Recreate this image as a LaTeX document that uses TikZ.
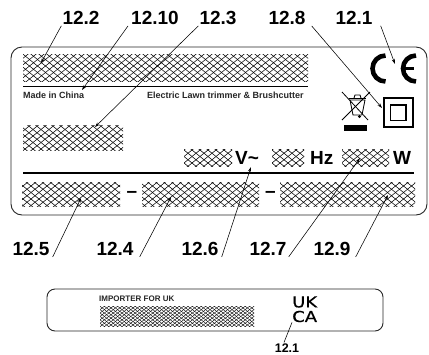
\documentclass[tikz,border=0pt]{standalone}
\usepackage{fontspec}
\setmainfont{Liberation Sans}
\newfontfamily\ukcafont[FakeStretch=1.2,FakeBold=.6]{DejaVu Sans}
\usetikzlibrary{arrows.meta}

\newcommand{\hatchlines}[3]{%
  \begin{scope}[shift={(path picture bounding box.center)}]
    \foreach \i in {-40,...,40} {
      \draw[line width=#3] ({\i*#1-120},-60) -- ++({120*2},{120*2*#2/#1});
      \draw[line width=#3] ({\i*#1+120},-60) -- ++({-120*2},{120*2*#2/#1});
    }
  \end{scope}}

\tikzset{
  hatchbox/.style={inner sep=0pt, outer sep=0pt, path picture={\hatchlines{8}{6.5}{.55pt}}},
  finebox/.style={inner sep=0pt, outer sep=0pt, path picture={\hatchlines{4.4}{3.4}{.4pt}}},
  bigtext/.style={inner sep=1pt, font=\fontsize{19}{19}\selectfont\bfseries},
  smalltext/.style={inner sep=0pt, font=\fontsize{9}{10}\selectfont\bfseries, text=black!85},
  callout/.style={-{Stealth[length=5pt,width=3.2pt]}, line width=.55pt},
  frame/.style={line width=.9pt, black!85}
}

\begin{document}
\begin{tikzpicture}[x=1pt, y=-1pt, line cap=butt, line join=miter]
\useasboundingbox (0,0) rectangle (429,354);

% Targhetta
\draw[frame, rounded corners=11pt] (11,47) rectangle (427,215);
\draw[line width=.7pt] (23,86) -- (308,86);
\draw[line width=2pt] (23,173) -- (414,173);

% Zone tratteggiate
\node[hatchbox, minimum width=285pt, minimum height=27pt] (hname) at (165.5,67.5) {};
\node[hatchbox, minimum width=100pt, minimum height=25pt] (hmodel) at (73,137.5) {};
\node[hatchbox, minimum width=48pt, minimum height=17pt] (hvolt) at (208,158) {};
\node[hatchbox, minimum width=32pt, minimum height=17pt] (hfreq) at (288,158) {};
\node[hatchbox, minimum width=47pt, minimum height=17pt] (hpower) at (365.5,158) {};
\node[hatchbox, minimum width=98pt, minimum height=24pt] (hleft) at (71,194) {};
\node[hatchbox, minimum width=117pt, minimum height=24pt] (hmid) at (200.5,194) {};
\node[hatchbox, minimum width=135pt, minimum height=24pt] (hright) at (347.5,194) {};

% Testi
\node[smalltext, anchor=west] (tchina) at (23,95.5) {Made in China};
\node[smalltext, anchor=west] (tdesc) at (147,95.5) {Electric Lawn trimmer \& Brushcutter};
\node[bigtext, anchor=west] (tvolt) at (234,158) {V\char"007E};
\node[bigtext, anchor=west] (thz) at (309,158) {Hz};
\node[bigtext, anchor=west] (twatt) at (392,158) {W};
\node[bigtext] (tdasha) at (132,194) {--};
\node[bigtext] (tdashb) at (270.5,194) {--};

% Marchio CE
\draw[line width=4.6pt] (385.5,55.5) arc[start angle=270, end angle=90, radius=13];
\draw[line width=4.6pt] (416,55.5) arc[start angle=270, end angle=90, radius=13];
\draw[line width=3.4pt] (402,68.5) -- (414,68.5);

% Doppio isolamento
\draw[line width=2.2pt] (384,98) rectangle (413,127);
\draw[line width=1.6pt] (390.5,105) rectangle (406,120.5);

% Cestino barrato
\draw[line width=.8pt] (342,92) -- (368,120);
\draw[line width=.8pt] (370,92) -- (342,120);
\draw[line width=.8pt] (350,100) -- (353,115) -- (362,115) -- (365,100) -- cycle;
\draw[line width=1pt] (349,98) -- (366,98);
\draw[line width=.8pt] (354,98) -- (355,95) -- (360,95) -- (361,98);
\fill (359.5,116.5) circle (1.6pt);
\fill (344,125) rectangle (367,131);

% Etichette
\node[bigtext] (l122) at (81,18) {12.2};
\node[bigtext] (l1210) at (155,18) {12.10};
\node[bigtext] (l123) at (218,18) {12.3};
\node[bigtext] (l128) at (287,18) {12.8};
\node[bigtext] (l121) at (354,18) {12.1};
\node[bigtext] (l125) at (31,249) {12.5};
\node[bigtext] (l124) at (115,249) {12.4};
\node[bigtext] (l126) at (200,249) {12.6};
\node[bigtext] (l127) at (268,249) {12.7};
\node[bigtext] (l129) at (332,249) {12.9};

% Punte delle frecce
\coordinate (a122) at (41,63);
\coordinate (a1210) at (82,90);
\coordinate (a123) at (95,127);
\coordinate (a128) at (382,108);
\coordinate (a121) at (395,64);
\coordinate (a125) at (81,198);
\coordinate (a124) at (171,197);
\coordinate (a126) at (251,167);
\coordinate (a127) at (360,158);
\coordinate (a129) at (388,195);

\draw[callout] (l122.south west) -- (a122);
\draw[callout] ([xshift=-2pt]l1210.south west) -- (a1210);
\draw[callout] (l123.south west) -- (a123);
\draw[callout] ([xshift=5pt]l128.south east) -- (a128);
\draw[callout] ([xshift=7pt]l121.south east) -- (a121);
\draw[callout] ([xshift=2pt]l125.south east) -- (a125);
\draw[callout] ([xshift=5pt]l124.south east) -- (a124);
\draw[callout] ([xshift=2pt]l126.south east) -- (a126);
\draw[callout] ([xshift=1pt]l127.south east) -- (a127);
\draw[callout] ([xshift=4pt]l129.south east) -- (a129);

% Targhetta importatore
\draw[frame, rounded corners=8pt] (47,289) rectangle (383,331);
\node[smalltext, anchor=west, font=\fontsize{8}{9}\selectfont\bfseries] (timporter) at (99,299) {IMPORTER FOR UK};
\node[finebox, minimum width=154pt, minimum height=20pt] (himporter) at (177,316) {};
\node[inner sep=0pt, anchor=west, font=\ukcafont\fontsize{15}{15}\selectfont] (tuk) at (292,302) {UK};
\node[inner sep=0pt, anchor=west, font=\ukcafont\fontsize{15}{15}\selectfont] (tca) at (292,316.5) {CA};
\node[bigtext, font=\fontsize{12.5}{13}\selectfont\bfseries] (lukca) at (287,348) {12.1};
\draw[line width=.55pt] (tca.south west) -- ([xshift=-3pt]lukca.north);

\end{tikzpicture}
\end{document}
